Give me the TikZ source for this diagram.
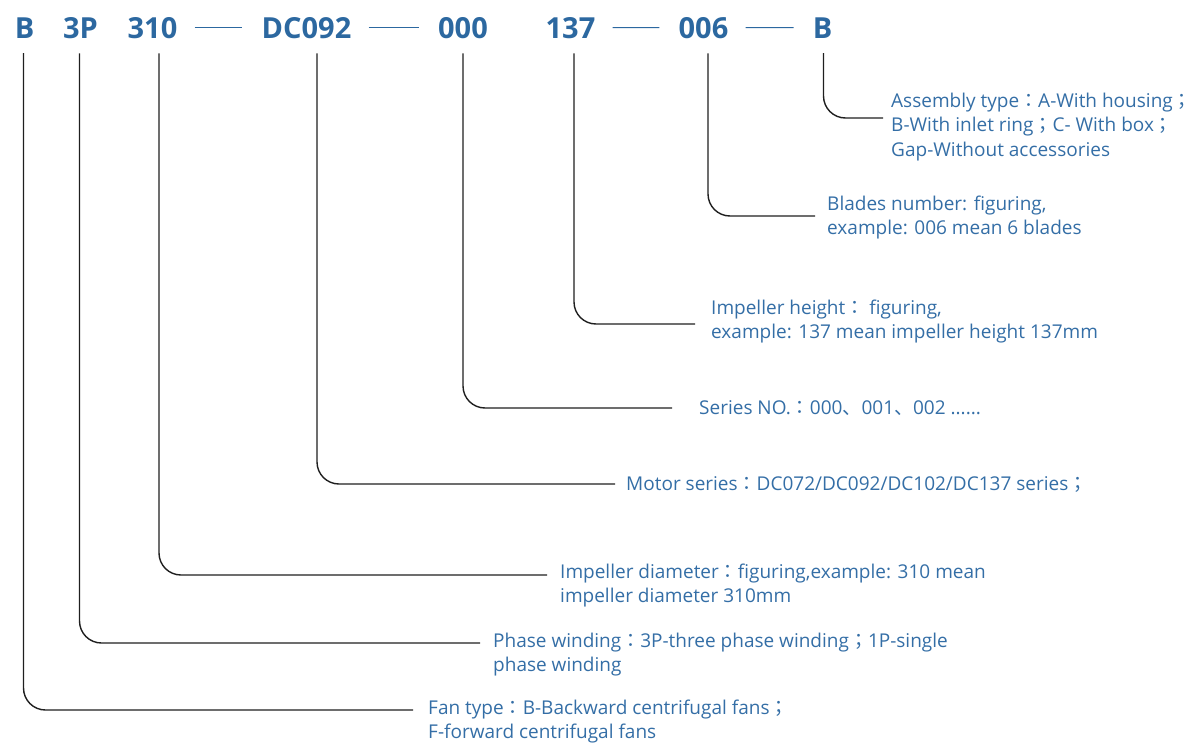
\documentclass[tikz,border=0pt]{standalone}
\usepackage{fontspec}
\setmainfont{Open Sans}
\newfontfamily\cjk{Noto Sans CJK SC}
\newfontfamily\cjkmid{Noto Sans CJK TC}
\usetikzlibrary{positioning}

\definecolor{codeblue}{RGB}{44,104,160}
\definecolor{noteblue}{RGB}{52,110,166}
\newcommand{\fcolon}{{\cjkmid ：}}
\newcommand{\fsemi}{{\cjkmid ；}}
\newcommand{\fcomma}{{\cjk 、}}

\begin{document}
\begin{tikzpicture}[x=1pt,y=-1pt,
code/.style={anchor=base,inner sep=0pt,text=codeblue,font=\fontsize{29}{32}\selectfont\bfseries},
note/.style={anchor=base west,align=left,inner sep=0pt,text=noteblue,font=\fontsize{19}{24.5}\selectfont},
lead/.style={draw=black!88,line width=1.4pt,rounded corners=22pt},
bar/.style={draw=codeblue,line width=1.2pt,shorten <=17pt,shorten >=19pt}]
\useasboundingbox (0,0) rectangle (1200,744);

% code on top
\node (hB) [code] at (24.5,38) {B};
\node (h3P) [code] at (80.5,38) {3P};
\node (h310) [code] at (152.5,38) {310};
\node (hDC) [code] at (306.5,38) {DC092};
\node (hSer) [code] at (463,38) {000};
\node (hHt) [code] at (570.5,38) {137};
\node (hBl) [code] at (703.5,38) {006};
\node (hAs) [code] at (822.5,38) {B};

\draw[bar] (h310.east) -- (hDC.west);
\draw[bar] (hDC.east) -- (hSer.west);
\draw[bar] (hHt.east) -- (hBl.west);
\draw[bar] (hBl.east) -- (hAs.west);

% explanations (placed by the baseline of the last line)
\node (lFan) [note] at (428,738.5) {Fan type\fcolon B-Backward centrifugal fans\fsemi\\F-forward centrifugal fans};
\node (lPh) [note] at (493,671.5) {Phase winding\fcolon 3P-three phase winding\fsemi 1P-single\\phase winding};
\node (lDia) [note] at (560,602.5) {Impeller diameter\fcolon figuring,example: 310 mean\\impeller diameter 310mm};
\node (lMot) [note] at (626,490) {Motor series\fcolon DC072/DC092/DC102/DC137 series\fsemi};
\node (lSer) [note] at (699,414) {Series NO.\fcolon 000\fcomma 001\fcomma 002 ......};
\node (lHt) [note] at (711,338.5) {Impeller height\fcolon\ figuring,\\example: 137 mean impeller height 137mm};
\node (lBl) [note] at (827,234.5) {Blades number: figuring,\\example: 006 mean 6 blades};
\node (lAs) [note] at (891,156) {Assembly type\fcolon A-With housing\fsemi\\B-With inlet ring\fsemi C- With box\fsemi\\Gap-Without accessories};

% leaders
\draw[lead] ([xshift=-1pt,yshift=-15pt]hB.south) |- ([xshift=-15pt,yshift=28.5pt]lFan.base west);
\draw[lead] ([xshift=-1pt,yshift=-15pt]h3P.south) |- ([xshift=-13pt,yshift=28.5pt]lPh.base west);
\draw[lead] ([xshift=6.5pt,yshift=-15pt]h310.south) |- ([xshift=-13pt,yshift=27.5pt]lDia.base west);
\draw[lead] ([xshift=10.5pt,yshift=-15pt]hDC.south) |- ([xshift=-11pt,yshift=6pt]lMot.base west);
\draw[lead] ([yshift=-15pt]hSer.south) |- ([xshift=-27pt,yshift=6pt]lSer.base west);
\draw[lead] ([xshift=3.5pt,yshift=-15pt]hHt.south) |- ([xshift=-16pt,yshift=14.5pt]lHt.base west);
\draw[lead] ([xshift=4.5pt,yshift=-15pt]hBl.south) |- ([xshift=-12pt,yshift=18.5pt]lBl.base west);
\draw[lead] ([xshift=1pt,yshift=-15pt]hAs.south) |- ([xshift=-8pt,yshift=38pt]lAs.base west);
\end{tikzpicture}
\end{document}
